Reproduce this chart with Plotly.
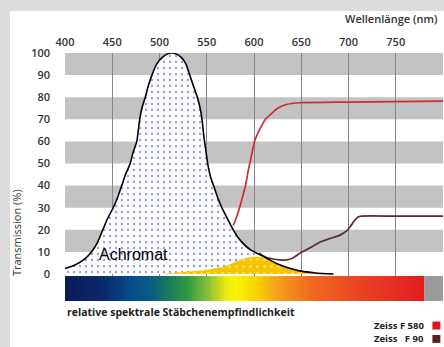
import plotly.graph_objects as go

# ---------------- data ----------------
achromat_x = [400, 410, 420, 428, 434, 440, 445, 451, 456, 460, 464, 469, 472, 476, 479, 482, 485, 488, 492, 497,
              503, 508, 513, 518, 523, 528, 532, 536, 540, 543, 545, 547, 549, 551, 554, 558, 562, 566, 572, 578,
              586, 596, 605, 615, 625, 635, 650, 665, 684]
achromat_y = [2.5, 4, 6.5, 10, 14, 20, 25, 30, 35, 40, 45, 50, 55, 60, 70, 76, 80, 85, 90, 95,
              98, 99.5, 100, 99.5, 98, 95, 90, 85, 80, 75, 70, 62, 56, 50, 44, 39, 34, 30, 25, 20,
              15, 11, 9, 6.8, 4.5, 3, 1.3, 0.5, 0]

yellow_x = [505, 515, 525, 535, 545, 553, 561, 570, 578, 585, 590, 596, 601, 606, 611, 615, 625, 635, 650, 665, 684]
yellow_y = [0, 0.4, 0.8, 1.1, 1.5, 2.0, 2.7, 3.5, 5.0, 6.2, 7.0, 7.5, 7.7, 7.6, 7.1, 6.5, 4.5, 3, 1.3, 0.5, 0]

f580_x = [578, 580, 584, 587, 591, 594, 598, 601, 605, 608, 612, 617, 625, 635, 649, 700, 750, 800]
f580_y = [22, 24, 29, 33.5, 40, 47, 55, 60.6, 64.5, 67, 70, 72, 75, 76.8, 77.5, 77.8, 78.0, 78.2]

f90_x = [605, 612, 620, 627, 633, 640, 649, 660, 670, 680, 691, 698, 702, 706, 710, 714, 750, 800]
f90_y = [9.5, 7.7, 6.8, 6.4, 6.3, 7.0, 9.5, 12, 14.5, 16, 17.6, 19.5, 21.5, 24, 25.8, 26.2, 26.2, 26.2]

x_ticks = [400, 450, 500, 550, 600, 650, 700, 750, 800]
x_labels = ["400", "450", "500", "550", "600", "650", "700", "750", ""]
y_ticks = [0, 10, 20, 30, 40, 50, 60, 70, 80, 90, 100]
y_labels = [str(v) for v in y_ticks]
bands = [(90, 100), (70, 80), (50, 60), (30, 40), (10, 20)]

spec_x = list(range(400, 782, 2))
spec_z = [[(a + b) / 2 for a, b in zip(spec_x[:-1], spec_x[1:])]]
spec_y = [-12.2, -0.9]
spectrum_colors = [
    (400, "#0a1a58"), (440, "#0b2a6c"), (470, "#064a8c"), (490, "#0a5a84"),
    (510, "#1a7a5c"), (530, "#2e9a40"), (552, "#8cc03a"), (570, "#e8ea10"),
    (580, "#fbf200"), (600, "#f8d800"), (625, "#f6a01c"), (660, "#f06a20"),
    (710, "#ea4424"), (780, "#e01c20"),
]
colorscale = [[(w - 400) / 380, c] for w, c in spectrum_colors]

font_main = "Open Sans"
txt = "#333333"
spline = dict(shape="spline", smoothing=0.6)

fig = go.Figure()

# spectrum bar
fig.add_trace(go.Heatmap(x=spec_x, y=spec_y, z=spec_z, colorscale=colorscale, zmin=400, zmax=780,
                         showscale=False, hoverinfo="skip"))

# achromat fill (white with blue dots)
fig.add_trace(go.Scatter(x=achromat_x, y=achromat_y, mode="lines", fill="tozeroy",
                         line=dict(color="white", width=0.5, **spline),
                         fillcolor="#ffffff",
                         fillpattern=dict(shape=".", fgcolor="#2f2fe0", bgcolor="#ffffff", size=6,
                                          solidity=0.12, fillmode="overlay"),
                         hoverinfo="skip", showlegend=False))
# yellow product fill (yellow with white dots)
fig.add_trace(go.Scatter(x=yellow_x, y=yellow_y, mode="lines", fill="tozeroy",
                         line=dict(color="#f7c400", width=0.5, **spline),
                         fillcolor="#f7c400",
                         fillpattern=dict(shape=".", fgcolor="white", bgcolor="#f7c400", size=7,
                                          solidity=0.12, fillmode="overlay"),
                         hoverinfo="skip", showlegend=False))
# red F580
fig.add_trace(go.Scatter(x=f580_x, y=f580_y, mode="lines",
                         line=dict(color="#d42a36", width=1.7, **spline),
                         name="Zeiss F 580", showlegend=False))
# brown F90
fig.add_trace(go.Scatter(x=f90_x, y=f90_y, mode="lines",
                         line=dict(color="#5a2e2e", width=1.7, **spline),
                         name="Zeiss F 90", showlegend=False))
# achromat outline
fig.add_trace(go.Scatter(x=achromat_x, y=achromat_y, mode="lines",
                         line=dict(color="black", width=1.6, **spline),
                         name="Achromat", showlegend=False))

shapes = []
# white panel on grey page
shapes.append(dict(type="rect", xref="paper", yref="paper", x0=-0.1455, x1=1.01, y0=-0.19, y1=1.169,
                   fillcolor="white", line=dict(width=0), layer="below"))
for lo, hi in bands:
    shapes.append(dict(type="rect", xref="x", yref="y", x0=400, x1=800, y0=lo, y1=hi,
                       fillcolor="#c3c3c3", line=dict(width=0), layer="below"))
# grey end of spectrum bar
shapes.append(dict(type="rect", xref="x", yref="y", x0=780, x1=800, y0=spec_y[0], y1=spec_y[1],
                   fillcolor="#9a9a9a", line=dict(width=0), layer="above"))
# legend squares
shapes.append(dict(type="rect", xref="paper", yref="paper", x0=0.972, x1=0.993, y0=-0.115, y1=-0.083,
                   fillcolor="#e3101e", line=dict(width=0)))
shapes.append(dict(type="rect", xref="paper", yref="paper", x0=0.972, x1=0.993, y0=-0.169, y1=-0.137,
                   fillcolor="#5a1e24", line=dict(width=0)))

annotations = [
    dict(text="Achromat", x=434, y=8.8, xref="x", yref="y", xanchor="left", yanchor="middle",
         showarrow=False, font=dict(family="Liberation Sans", size=16, color="black")),
    dict(text="Wellenlänge (nm)", x=0.992, y=1.141, xref="paper", yref="paper", xanchor="right",
         yanchor="middle", showarrow=False, font=dict(family=font_main, size=11, color=txt, weight=600)),
    dict(text="Transmission (%)", x=-0.1296, y=0.274, xref="paper", yref="paper", textangle=-90,
         xanchor="center", yanchor="middle", showarrow=False,
         font=dict(family=font_main, size=11, color=txt)),
    dict(text="relative spektrale Stäbchenempfindlichkeit", x=0.0, y=-0.045, xref="paper", yref="paper",
         xanchor="left", yanchor="middle", showarrow=False,
         font=dict(family=font_main, size=10.5, color="#222222", weight=700)),
    dict(text="Zeiss F 580", x=0.955, y=-0.099, xref="paper", yref="paper", xanchor="right",
         yanchor="middle", showarrow=False, font=dict(family=font_main, size=9.5, color="#222222", weight=700)),
    dict(text="Zeiss   F 90", x=0.955, y=-0.153, xref="paper", yref="paper", xanchor="right",
         yanchor="middle", showarrow=False, font=dict(family=font_main, size=9.5, color="#222222", weight=700)),
]

fig.update_layout(
    width=444, height=347,
    margin=dict(l=65, r=1, t=53, b=46),
    paper_bgcolor="#dcdcdc", plot_bgcolor="white",
    showlegend=False,
    shapes=shapes, annotations=annotations,
    xaxis=dict(range=[400, 800], side="top", tickvals=x_ticks, ticktext=x_labels,
               showgrid=True, gridcolor="#868686", gridwidth=1, zeroline=False, showline=False,
               ticks="", ticklabelstandoff=4,
               tickfont=dict(family=font_main, size=11, color=txt, weight=600)),
    yaxis=dict(range=[-12.2, 100], tickvals=y_ticks, ticktext=y_labels, showgrid=False,
               zeroline=False, showline=False, ticks="", ticklabelstandoff=14,
               tickfont=dict(family=font_main, size=11, color=txt, weight=600)),
)

fig.write_html("out.html")
